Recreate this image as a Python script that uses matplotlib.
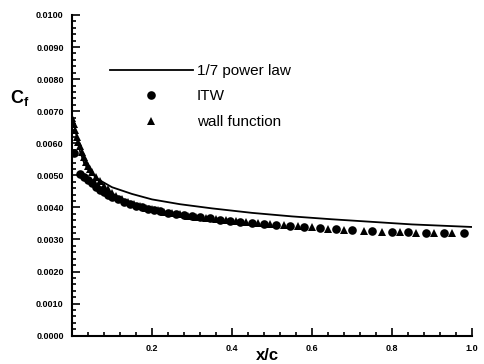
import matplotlib
matplotlib.use("Agg")
import matplotlib.pyplot as plt
from matplotlib.ticker import MultipleLocator, FixedLocator, FuncFormatter

# --- data ---
power_x = [0.005, 0.01, 0.02, 0.03, 0.045, 0.0675, 0.1, 0.15, 0.2, 0.27, 0.35,
           0.45, 0.55, 0.65, 0.75, 0.85, 1.0]
power_cf = [0.0067, 0.0063, 0.00575, 0.0054, 0.0051, 0.00486, 0.00463, 0.00442,
            0.00425, 0.00410, 0.00397, 0.00383, 0.00372, 0.00363, 0.00355,
            0.00347, 0.00339]

itw_x = [0.006, 0.02, 0.03, 0.04, 0.05, 0.06, 0.07, 0.08, 0.09, 0.10, 0.115,
         0.13, 0.145, 0.16, 0.175, 0.19, 0.205, 0.22, 0.24, 0.26, 0.28, 0.30,
         0.32, 0.345, 0.37, 0.395, 0.42, 0.45, 0.48, 0.51, 0.545, 0.58, 0.62,
         0.66, 0.70, 0.75, 0.80, 0.84, 0.885, 0.93, 0.98]
itw_cf = [0.00570, 0.00505, 0.00495, 0.00485, 0.00475, 0.00465, 0.00455,
          0.00447, 0.00440, 0.00433, 0.00425, 0.00417, 0.00410, 0.00405,
          0.00400, 0.00396, 0.00392, 0.00388, 0.00384, 0.00380, 0.00376,
          0.00373, 0.00370, 0.00366, 0.00362, 0.00359, 0.00356, 0.00352,
          0.00348, 0.00345, 0.00342, 0.00339, 0.00335, 0.00332, 0.00329,
          0.00325, 0.00323, 0.00322, 0.00321, 0.00320, 0.00319]

wf_x = [0.0, 0.004, 0.008, 0.012, 0.016, 0.02, 0.025, 0.03, 0.035, 0.04, 0.045,
        0.05, 0.06, 0.07, 0.08, 0.09, 0.10, 0.11, 0.125, 0.14, 0.155, 0.17,
        0.185, 0.20, 0.215, 0.23, 0.25, 0.27, 0.29, 0.31, 0.335, 0.36, 0.385,
        0.41, 0.435, 0.465, 0.495, 0.53, 0.565, 0.60, 0.64, 0.68, 0.73, 0.775,
        0.82, 0.86, 0.905, 0.95]
wf_cf = [0.00680, 0.00660, 0.00640, 0.00620, 0.00605, 0.00590, 0.00572,
         0.00556, 0.00542, 0.00530, 0.00520, 0.00510, 0.00495, 0.00482,
         0.00468, 0.00456, 0.00445, 0.00436, 0.00426, 0.00418, 0.00411,
         0.00404, 0.00399, 0.00395, 0.00391, 0.00387, 0.00382, 0.00378,
         0.00374, 0.00371, 0.00368, 0.00364, 0.00361, 0.00358, 0.00355,
         0.00351, 0.00348, 0.00345, 0.00341, 0.00338, 0.00334, 0.00331,
         0.00327, 0.00324, 0.00322, 0.00321, 0.00320, 0.00319]

x_ticks = [0.2, 0.4, 0.6, 0.8, 1.0]
y_ticks = [0.0, 0.001, 0.002, 0.003, 0.004, 0.005, 0.006, 0.007, 0.008, 0.009, 0.010]

plt.rcParams['font.family'] = ['Liberation Sans', 'DejaVu Sans']

fig = plt.figure(figsize=(4.84, 3.64), dpi=100)
ax = fig.add_axes([72/484, 1-335.7/364, 400/484, (335.7-15)/364])

ax.plot(power_x, power_cf, color='black', lw=1.3, label='1/7 power law')
ax.plot(itw_x, itw_cf, 'o', color='black', ms=6.2, mew=0, label='ITW')
ax.plot(wf_x, wf_cf, '^', color='black', ms=6.2, mew=0, label='wall function')

ax.set_xlim(0, 1.0)
ax.set_ylim(0, 0.010)
for s in ['top', 'right']:
    ax.spines[s].set_visible(False)
for s in ['left', 'bottom']:
    ax.spines[s].set_linewidth(1.5)

ax.xaxis.set_major_locator(FixedLocator(x_ticks))
ax.xaxis.set_minor_locator(MultipleLocator(0.04))
ax.yaxis.set_major_locator(FixedLocator(y_ticks))
ax.yaxis.set_minor_locator(MultipleLocator(0.0002))
ax.xaxis.set_major_formatter(FuncFormatter(lambda v, p: f"{v:.1f}"))
ax.yaxis.set_major_formatter(FuncFormatter(lambda v, p: f"{v:.4f}"))
ax.tick_params(which='both', direction='in', width=1.2)
ax.tick_params(which='major', length=6, labelsize=6.5, pad=6)
ax.tick_params(which='minor', length=3)
for lab in ax.get_xticklabels() + ax.get_yticklabels():
    lab.set_fontweight('bold')

fig.text(267/484, 1-356/364, 'x/c', fontsize=12, fontweight='bold',
         ha='center', va='center')
fig.text(20/484, 1-98/364, r'C$_\mathregular{f}$', fontsize=13,
         fontweight='bold', ha='center', va='center')

leg = ax.legend(loc='upper left', bbox_to_anchor=(110/484, 1-64/364),
                bbox_transform=fig.transFigure, frameon=False, fontsize=11,
                handlelength=5.4, handletextpad=0.3, borderpad=0,
                labelspacing=0.75, borderaxespad=0)

fig.savefig('out.png', dpi=100)
